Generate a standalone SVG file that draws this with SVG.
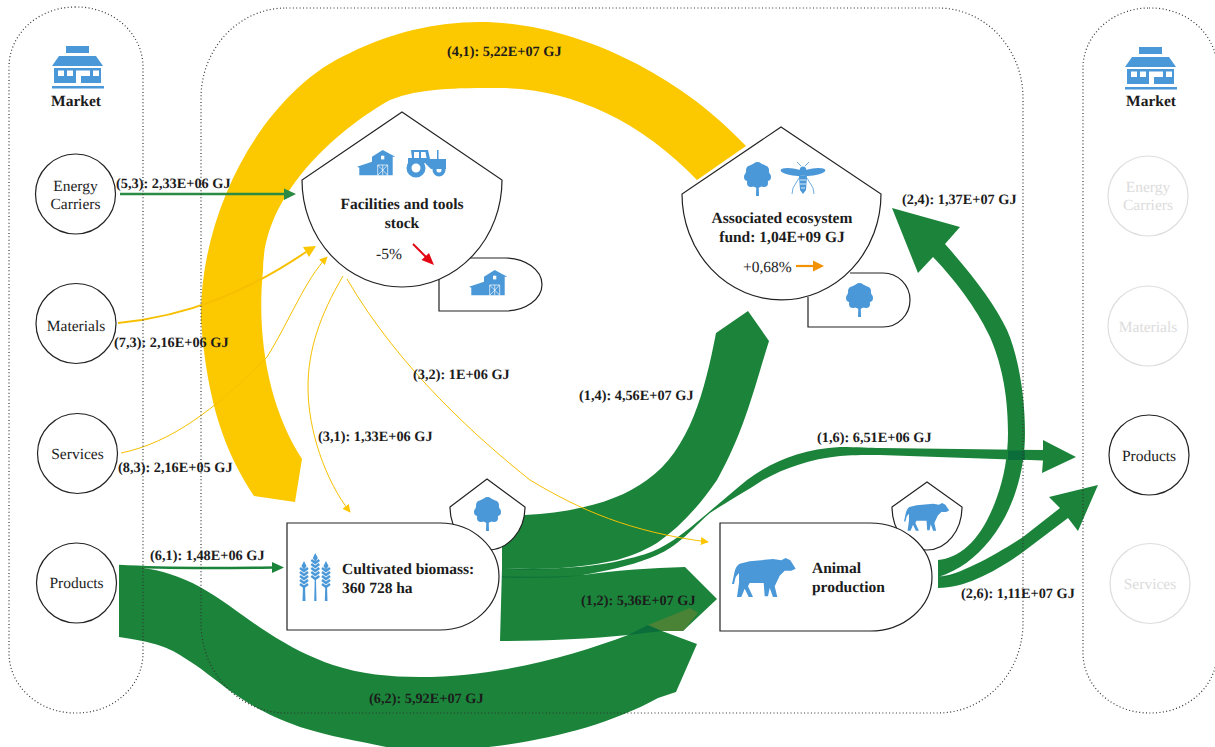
<svg xmlns="http://www.w3.org/2000/svg" width="1215" height="747" viewBox="0 0 1215 747">
<style>
text{font-family:"Liberation Serif","Times New Roman",serif;fill:#1c1c1c;text-rendering:geometricPrecision}
.l{font-size:14.3px;font-weight:700}
.b{font-size:15.5px;font-weight:700}
.n{font-size:15.5px;text-anchor:middle}
.bm{text-anchor:middle}
.p{font-size:15.5px}
.c{fill:#fff;stroke:#222;stroke-width:1.2}
.f{fill:#fff;stroke:#dedede;stroke-width:1.2}
text.ft{fill:#dcdcdc}
.s{fill:#fff;stroke:#222;stroke-width:1.2}
.box{fill:none;stroke:#333;stroke-width:1.2;stroke-dasharray:1 2.4}
.g{fill:#1b843a}
.y{fill:#fcc800}
.d{fill:#0b6d3a}
.ic{fill:#4a98d8}
.t{fill:none;stroke:#f6c000}
</style>
<defs>
<marker id="ay" viewBox="0 0 10 10" refX="9" refY="5" markerWidth="8" markerHeight="8" markerUnits="userSpaceOnUse" orient="auto"><path d="M0,0L10,5L0,10Z" fill="#fcc600"/></marker>
<g id="store">
<rect class="ic" x="14" y="0" width="23" height="7"/>
<path class="ic" d="M7,10H44L51,20H0Z"/>
<path class="ic" fill-rule="evenodd" d="M2,22H49V37H2ZM6,24.500V30H12V24.500ZM15,24.500V30H21V24.500ZM32,24.500V30H38V24.500ZM41,24.500V30H47V24.500ZM24,24.500V37H29V30H32V24.500Z"/>
<rect class="ic" x="0" y="40" width="52" height="2.500"/>
</g>
<g id="barn">
<path class="ic" d="M0,16.700L15,11.700V6.700L25.700,0L38.300,6.700H35.700V25.300H2.300V17.700Z"/>
<rect x="24" y="5.700" width="3.300" height="3.700" fill="#fff"/>
<path d="M20.700,25.300V15H30.700V25.300M25.700,15V25.300M20.700,15L30.700,25.300M30.700,15L20.700,25.300" fill="none" stroke="#fff" stroke-width=".7"/>
</g>
<g id="tree">
<circle class="ic" cx="13.500" cy="13" r="12"/>
<circle class="ic" cx="13.500" cy="5" r="5"/>
<circle class="ic" cx="6.500" cy="8" r="4.500"/>
<circle class="ic" cx="20.500" cy="8" r="4.500"/>
<circle class="ic" cx="4" cy="15" r="4"/>
<circle class="ic" cx="23" cy="15" r="4"/>
<circle class="ic" cx="7" cy="21" r="4"/>
<circle class="ic" cx="20" cy="21" r="4"/>
<circle class="ic" cx="13.500" cy="21" r="5"/>
<path class="ic" d="M12.300,24H14.700L15,34H12Z"/>
</g>
<path id="cow" class="ic" d="M0,26L2.700,13.300Q4,8 7.700,5.700L17.700,3.300L41,1L49.300,2.300L53.700,0L58.300,2.300L63.700,10.700L59.300,12.700H52.700L47.700,17.700L42.700,28.300L45.300,39H41L37.700,30L36,38.300H32.700L31.700,25H17.700L16,28.300L21,39H16.700L12.700,30.700L9.300,39H5L7,25V15L3.700,19L2,26Z"/>
<g id="ear">
<path d="M-4,7L0,10L4,7M-4,11L0,14L4,11M-4,15L0,18L4,15M-4,19L0,22L4,19M-4,23L0,26L4,23" fill="none" stroke="#4a98d8" stroke-width="2.400"/>
<path class="ic" d="M0,0L2.500,5L0,9L-2.500,5Z"/>
</g>
</defs>

<g id="connectors">
<path id="flow-4-1" class="y" d="M254,496C226,454 207,404 201,320C199,210 265,90 350,53C390,33 435,22 480,22C575,22 680,75 746,146L697,180C640,120 570,88 500,88C455,88 420,88 390,100C345,125 263,190 263,270C256,340 270,410 302,459L295,502Z"/>
<path id="flow-6-2" class="g" d="M119,565L143,568C160,570 180,576 200,587C225,601 245,618 267,632C290,647 310,657 333,665C360,674 390,677 420,677C500,677 575,655 628,635L648,625L662,631L697,644L676,692L658,698C600,730 520,747 450,750L400,750C365,742 335,738 300,727C270,716 255,708 233,693C215,680 200,667 183,657C170,648 155,642 119,637Z"/>
<path id="flow-1-4" class="g" d="M502,516L525,515C580,512 620,500 647,480C690,450 705,390 716,333L748,311L769,341C755,385 745,430 717,480C700,505 680,527 657,543C640,553 630,556 617,560C590,566 560,569 533,569L502,568Z"/>
<path id="flow-1-2" class="g" d="M502,568L583,575C620,570 650,568 685,567L717,599L683,631L662,631C650,632 640,633 628,635C590,639 540,641 500,641Z"/>
<path id="flow-1-6" class="g" d="M502,568C545,570 590,568 623,560C640,556 650,553 660,548C675,540 685,532 697,522C715,507 730,494 747,480C770,463 800,449 840,447C860,447 870,448 880,448L1043,450V440L1076,457L1042,473L1043,460.500L880,455C860,455 850,455 840,456C810,459 785,468 763,480C745,492 725,503 710,513C697,524 690,533 677,543C668,550 660,554 650,558C630,566 605,571 583,575C555,579 530,578 502,577Z"/>
<path class="d" d="M502,568.500C520,569 535,569 555,570L520,570Z" opacity=".7"/>
<path class="d" d="M502,576C530,577 560,577 583,575C555,579 525,578 502,577.500Z" opacity=".7"/>
<path id="flow-2-4" class="g" d="M938,560C960,558 982,540 997,497C1004,478 1008,455 1008,433C1008,390 1000,360 990,337C980,315 960,285 933,257L918,273L892,208L960,227L945,244C975,278 995,305 1007,330C1018,355 1025,395 1025,433C1025,470 1014,510 990,540C975,558 960,570 938,577Z"/>
<path id="flow-2-6" class="g" d="M938,577C960,575 995,555 1023,537L1060,508L1049,497L1098,485L1078,531L1068,518L1023,552C995,572 965,588 938,588Z"/>
<path class="d" d="M1008,450.500H1025V460H1008Z"/>
<path class="d" d="M628,635L648,625L662,631Z"/>
<path d="M648,625L690,608L698,613L683,631H662Z" fill="#4a8236"/>
<path class="d" d="M938,577C945,577 952,576 958,574C952,575 945,576 938,576Z" opacity=".7"/>
<path id="flow-6-1" d="M119,566C170,569 220,568 274,567.500" fill="none" stroke="#1b843a" stroke-width="2.500"/>
<path class="g" d="M272,562L284,567.500L272,573Z"/>
<path id="flow-5-3" d="M120,194H286" fill="none" stroke="#2b8a43" stroke-width="2.500"/>
<path d="M284,188.500L296,194L284,200Z" fill="#2b8a43"/>
<path id="flow-7-3" class="t" stroke-width="2" d="M118,323C190,316 250,290 306,252"/>
<path d="M316,246L303,247L309,257Z" fill="#fcc600"/>
<path id="flow-8-3" class="t" d="M121,453C170,443 215,410 267,357C290,320 305,280 327,257" marker-end="url(#ay)"/>
<path id="flow-3-1" class="t" d="M343,276C320,315 308,350 308,387C308,430 325,480 350,512" marker-end="url(#ay)"/>
<path id="flow-3-2" class="t" d="M347,279C400,370 480,440 530,480C580,510 630,532 708,542" marker-end="url(#ay)"/>
</g>

<g id="containers">
<rect class="box" x="9" y="7" width="134" height="706" rx="66" ry="60"/>
<rect class="box" x="201" y="8" width="822" height="705" rx="85" ry="90"/>
<rect class="box" x="1083" y="8" width="134" height="705" rx="66" ry="60"/>
</g>

<g id="market-left">
<use href="#store" x="52" y="46"/>
<text class="b bm" x="76" y="106">Market</text>
</g>
<g id="market-right">
<use href="#store" x="1125" y="47"/>
<text class="b bm" x="1151" y="106">Market</text>
</g>

<g id="energy-carriers-left"><circle class="c" cx="75.500" cy="194" r="40"/><text class="n" x="75.500" y="191">Energy</text><text class="n" x="75.500" y="209">Carriers</text></g>
<g id="materials-left"><circle class="c" cx="76" cy="323.500" r="40"/><text class="n" x="76" y="331">Materials</text></g>
<g id="services-left"><circle class="c" cx="77.500" cy="453.500" r="40"/><text class="n" x="77.500" y="459">Services</text></g>
<g id="products-left"><circle class="c" cx="76.500" cy="583" r="40"/><text class="n" x="76.500" y="588">Products</text></g>

<g id="energy-carriers-right"><circle class="f" cx="1148" cy="196" r="40"/><text class="n ft" x="1148" y="192">Energy</text><text class="n ft" x="1148" y="210">Carriers</text></g>
<g id="materials-right"><circle class="f" cx="1148" cy="326" r="40"/><text class="n ft" x="1148" y="332">Materials</text></g>
<g id="products-right"><circle class="c" cx="1149" cy="455" r="40"/><text class="n" x="1149" y="461">Products</text></g>
<g id="services-right"><circle class="f" cx="1150" cy="583.500" r="40"/><text class="n ft" x="1150" y="589">Services</text></g>

<g id="facilities-stock">
<path class="s" d="M439,277V311H505A37,26.500 0 0 0 505,258H470"/>
<use href="#barn" x="469" y="270"/>
<path class="s" d="M402,112L502,180A100,107 0 0 1 302,180Z"/>
<use href="#barn" x="357" y="150"/>
<g>
<circle cx="416" cy="168" r="7" fill="none" stroke="#4a98d8" stroke-width="5"/>
<circle cx="439" cy="170" r="4.500" fill="none" stroke="#4a98d8" stroke-width="4"/>
<path class="ic" d="M411,150H428L430,159H446V169H431L425,163H412L408,166V158H412ZM414,152V158H419V152ZM421,152V158H426.500L425.500,152Z" fill-rule="evenodd"/>
<path class="ic" d="M437,150H438.500V160H437Z"/>
</g>
<text class="b bm" x="402" y="209">Facilities and tools</text>
<text class="b bm" x="402" y="228">stock</text>
<text class="p" x="376" y="259">-5%</text>
<path d="M413,244L428,259" stroke="#e30613" stroke-width="2" fill="none"/>
<path d="M434,265L421.500,260L429,253Z" fill="#e30613"/>
</g>

<g id="associated-ecosystem">
<path class="s" d="M808,297V327H883A27,27 0 0 0 883,273H850"/>
<use href="#tree" x="846" y="283"/>
<path class="s" d="M781,127L881,194A99.500,106 0 0 1 682,194Z"/>
<use href="#tree" x="744" y="162"/>
<g>
<ellipse class="ic" cx="793" cy="172" rx="12.500" ry="3.500" transform="rotate(8 793 172)"/>
<ellipse class="ic" cx="813" cy="172" rx="12.500" ry="3.500" transform="rotate(-8 813 172)"/>
<ellipse class="ic" cx="803" cy="171" rx="3.500" ry="4.500"/>
<path class="ic" d="M799,176H807L806,190L803,194L800,190Z"/>
<path d="M800,180H806M800,184H806M801,188H805" stroke="#fff" stroke-width=".8"/>
<path d="M801,166L797,162M805,166L809,162M799,178L793,188L792,194M807,178L813,188L814,194" stroke="#4a98d8" stroke-width=".8" fill="none"/>
</g>
<text class="b bm" x="782" y="223">Associated ecosystem</text>
<text class="b bm" x="782" y="242">fund: 1,04E+09 GJ</text>
<text class="p" x="743" y="272">+0,68%</text>
<path d="M796,266H814" stroke="#f39200" stroke-width="2.200"/>
<path d="M813,260.500L824,266L813,271.500Z" fill="#f39200"/>
</g>

<g id="cultivated-biomass">
<path class="s" d="M450,507L487,479L525,507A37.500,43 0 0 1 450,507Z"/>
<use href="#tree" x="474" y="497"/>
<path class="s" d="M287,523H440A59,53.500 0 0 1 440,630H287Z"/>
<path class="ic" d="M303,585H305L305.500,601H302.500ZM314.700,580H316L316.500,601H314.200ZM325.300,585H327L327.500,601H324.800Z"/>
<use href="#ear" x="304" y="561"/>
<use href="#ear" x="315.300" y="553"/>
<use href="#ear" x="326" y="561"/>
<text class="b" x="342" y="574">Cultivated biomass:</text>
<text class="b" x="342" y="593">360 728 ha</text>
</g>

<g id="animal-production">
<path class="s" d="M892,507L927,482L962,507A35,43 0 0 1 892,507Z"/>
<use href="#cow" transform="translate(904 503) scale(.71)"/>
<path class="s" d="M720,523H870A62,54 0 0 1 870,631H720Z"/>
<use href="#cow" x="732" y="558"/>
<text class="b" x="812" y="573">Animal</text>
<text class="b" x="812" y="592">production</text>
</g>

<g id="connector-labels">
<text class="l" x="447" y="56">(4,1): 5,22E+07 GJ</text>
<text class="l" x="116" y="188">(5,3): 2,33E+06 GJ</text>
<text class="l" x="114" y="347">(7,3): 2,16E+06 GJ</text>
<text class="l" x="118" y="472">(8,3): 2,16E+05 GJ</text>
<text class="l" x="150" y="560">(6,1): 1,48E+06 GJ</text>
<text class="l" x="369" y="703">(6,2): 5,92E+07 GJ</text>
<text class="l" x="318" y="441">(3,1): 1,33E+06 GJ</text>
<text class="l" x="413" y="379">(3,2): 1E+06 GJ</text>
<text class="l" x="579" y="400">(1,4): 4,56E+07 GJ</text>
<text class="l" x="817" y="442">(1,6): 6,51E+06 GJ</text>
<text class="l" x="581" y="605">(1,2): 5,36E+07 GJ</text>
<text class="l" x="902" y="204">(2,4): 1,37E+07 GJ</text>
<text class="l" x="961" y="598">(2,6): 1,11E+07 GJ</text>
</g>
</svg>
